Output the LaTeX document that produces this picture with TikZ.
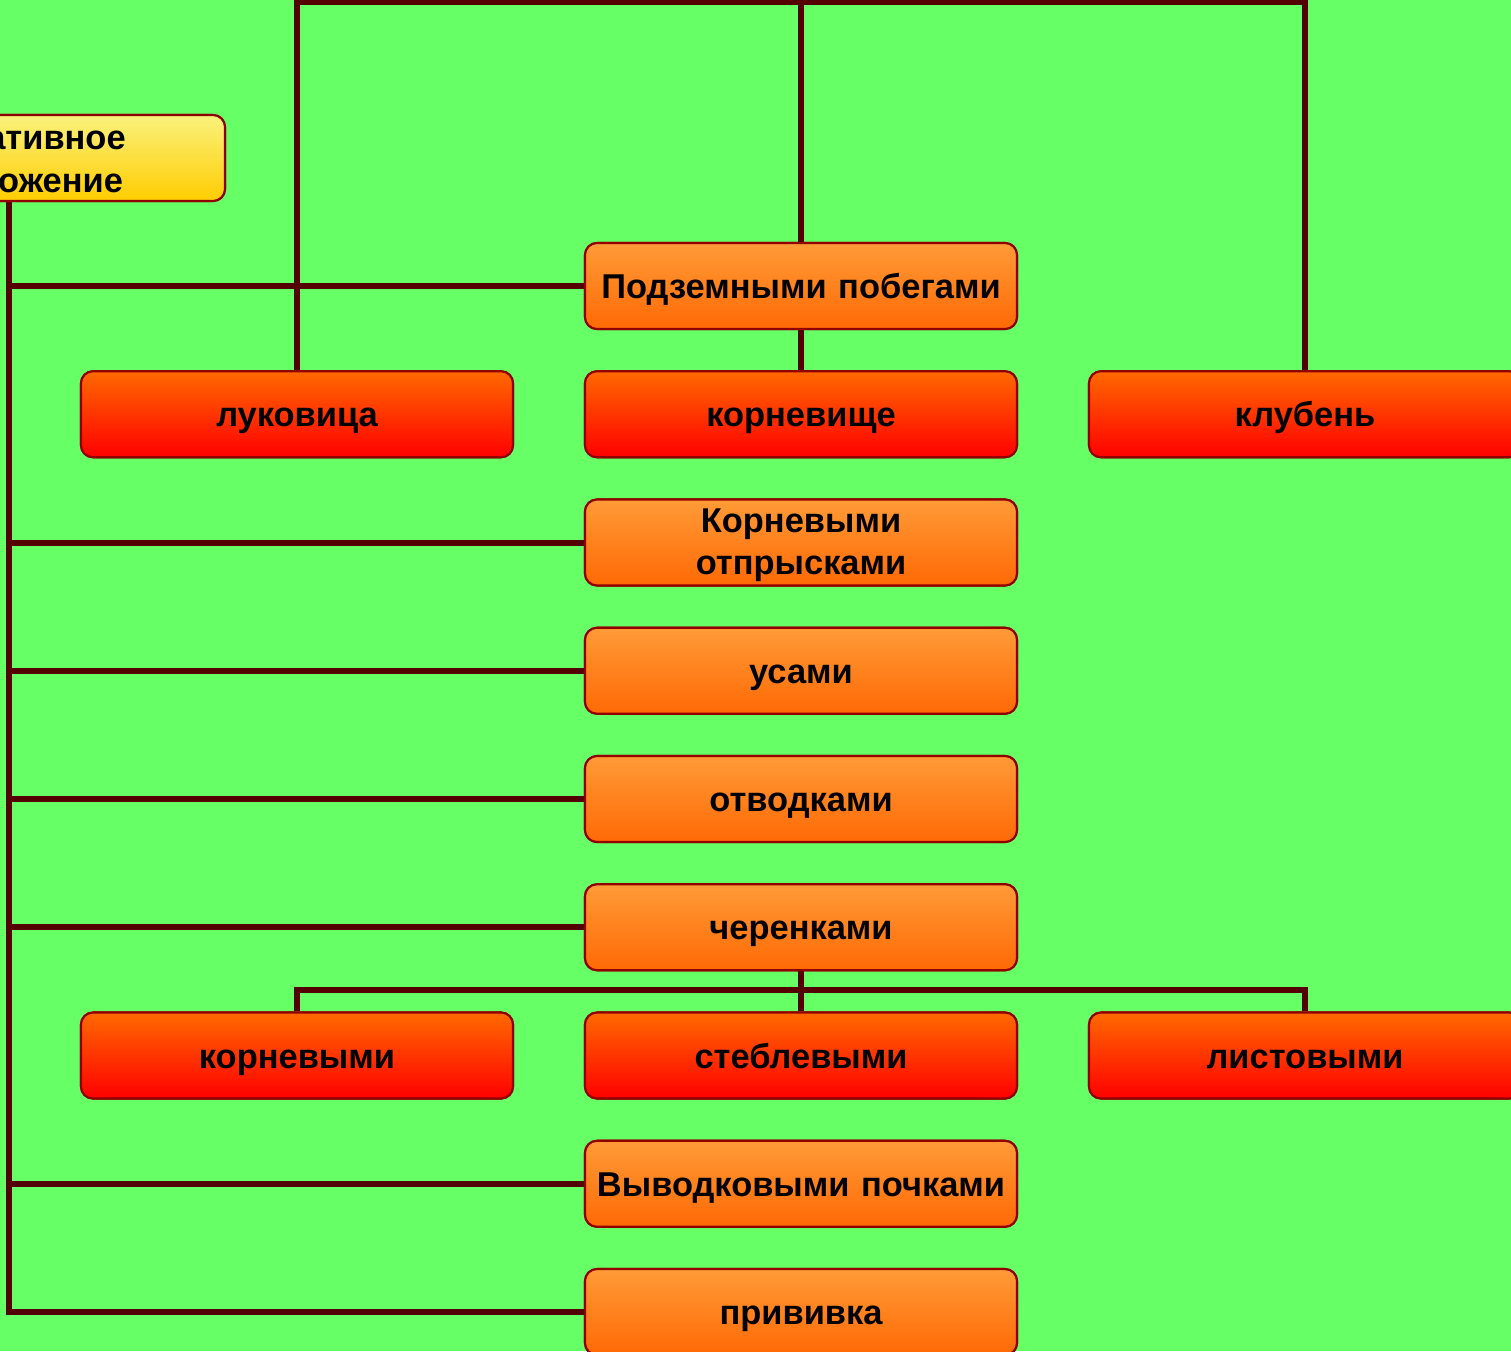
\documentclass[tikz,border=0pt]{standalone}
\usepackage{fontspec}
\setmainfont{Liberation Sans}

\definecolor{fieldGreen}{RGB}{102,255,102}
\definecolor{linkBrown}{RGB}{85,0,0}
\definecolor{boxEdge}{RGB}{145,0,0}
\definecolor{wayTop}{RGB}{255,155,55}
\definecolor{wayBottom}{RGB}{255,105,5}
\definecolor{kindTop}{RGB}{255,105,0}
\definecolor{kindBottom}{RGB}{255,0,0}
\definecolor{rootTop}{RGB}{250,242,125}
\definecolor{rootBottom}{RGB}{255,204,0}

\tikzset{
  box/.style={rectangle, rounded corners=0.12cm, draw=boxEdge, line width=0.6pt,
    minimum width=4.32cm, minimum height=0.86cm, inner sep=0pt,
    text width=4.3cm, align=center, text height=9.3pt, text depth=2.1pt,
    font=\bfseries\fontsize{9.8}{12}\selectfont},
  twolines/.style={text height=4.3pt, text depth=10pt},
  way/.style={box, top color=wayTop, bottom color=wayBottom},
  kind/.style={box, top color=kindTop, bottom color=kindBottom},
  rootbox/.style={box, twolines, text height=5.4pt, top color=rootTop, bottom color=rootBottom},
  link/.style={draw=linkBrown, line width=1.7pt},
}

\begin{document}
\begin{tikzpicture}[node distance=1.2825cm]
  \useasboundingbox (0,0) rectangle (15.11,-13.51);
  \clip (0,0) rectangle (15.11,-13.51);
  \fill[fieldGreen] (0,0) rectangle (15.11,-13.51);

  \coordinate (top) at (8.01,-0.02);
  \coordinate (trunk) at (0.09,-13.11);

  \node[rootbox] (root) at (0.09,-1.58) {Вегетативное\\размножение};
  \node[way] (pod) at (8.01,-2.86) {Подземными побегами};
  \node[kind, below of=pod] (korv) {корневище};
  \node[kind, left of=korv, node distance=5.04cm] (luk) {луковица};
  \node[kind, right of=korv, node distance=5.04cm] (klub) {клубень};
  \node[way, twolines, below of=korv] (otpr) {Корневыми\\отпрысками};
  \node[way, below of=otpr] (usy) {усами};
  \node[way, below of=usy] (otvod) {отводками};
  \node[way, below of=otvod] (cher) {черенками};
  \node[kind, below of=cher] (stebl) {стеблевыми};
  \node[kind, left of=stebl, node distance=5.04cm] (korn) {корневыми};
  \node[kind, right of=stebl, node distance=5.04cm] (list) {листовыми};
  \node[way, below of=stebl] (vyvod) {Выводковыми почками};
  \node[way, below of=vyvod] (priv) {прививка};

  \draw[link] (root.south -| trunk) |- (priv.west);
  \foreach \n in {pod,otpr,usy,otvod,cher,vyvod}
    \draw[link] (\n.west) -- (\n.west -| trunk);
  \draw[link] (luk.north) -- (luk.north |- top) -- (klub.north |- top) -- (klub.north);
  \draw[link] (pod.north) -- (top);
  \draw[link] (pod.south) -- (korv.north);
  \draw[link] (cher.south) -- (stebl.north);
  \draw[link] (korn.north) -- ++(0,0.215) -| (list.north);

  % boxes again, over the links
  \node[rootbox] at (root) {Вегетативное\\размножение};
  \foreach \n/\t in {pod/Подземными побегами, usy/усами, otvod/отводками,
      cher/черенками, vyvod/Выводковыми почками, priv/прививка}
    \node[way] at (\n) {\t};
  \node[way, twolines] at (otpr) {Корневыми\\отпрысками};
  \foreach \n/\t in {korv/корневище, luk/луковица, klub/клубень,
      stebl/стеблевыми, korn/корневыми, list/листовыми}
    \node[kind] at (\n) {\t};
\end{tikzpicture}
\end{document}
